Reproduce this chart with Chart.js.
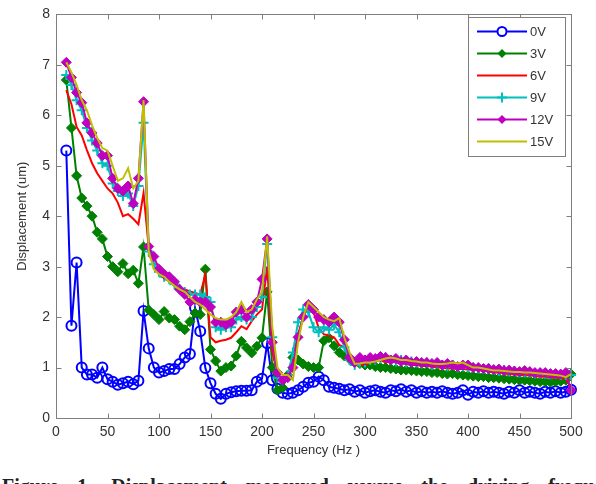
<!DOCTYPE html>
<html>
<head>
<meta charset="utf-8">
<script src="https://cdn.jsdelivr.net/npm/chart.js@4.4.1/dist/chart.umd.min.js"></script>
<style>
  html, body { margin: 0; padding: 0; background: #fff; overflow: hidden; }
  #wrap { position: relative; width: 596px; height: 484px; overflow: hidden; }
  #chart { position: absolute; left: 0; top: 0; }
  #caption { position: absolute; left: 2px; top: 475px; font: bold 20px "Liberation Serif", serif; color: #222; white-space: nowrap; word-spacing: 14px; }
</style>
</head>
<body>
<div id="wrap">
  <canvas id="chart" width="596" height="468"></canvas>
  <div id="caption">Figure 1. Displacement measured versus the driving frequency</div>
</div>
<script>
// frequency points (Hz)
const freq = [
  10, 15, 20, 25, 30, 35, 40, 45, 50, 55,
  60, 65, 70, 75, 80, 85, 90, 95, 100, 105,
  110, 115, 120, 125, 130, 135, 140, 145, 150, 155,
  160, 165, 170, 175, 180, 185, 190, 195, 200, 205,
  210, 215, 220, 225, 230, 235, 240, 245, 250, 255,
  260, 265, 270, 275, 280, 285, 290, 295, 300, 305,
  310, 315, 320, 325, 330, 335, 340, 345, 350, 355,
  360, 365, 370, 375, 380, 385, 390, 395, 400, 405,
  410, 415, 420, 425, 430, 435, 440, 445, 450, 455,
  460, 465, 470, 475, 480, 485, 490, 495, 500
];

// displacement (um) for each voltage
const disp0V = [
  5.3, 1.83, 3.08, 1.0, 0.86, 0.86, 0.8, 1.0, 0.77, 0.72,
  0.66, 0.69, 0.72, 0.67, 0.74, 2.12, 1.38, 1.0, 0.9, 0.93,
  0.97, 0.97, 1.07, 1.2, 1.27, 2.18, 1.72, 0.99, 0.69, 0.48,
  0.38, 0.48, 0.51, 0.53, 0.54, 0.54, 0.55, 0.72, 0.78, 1.48,
  0.75, 0.58, 0.5, 0.48, 0.5, 0.55, 0.62, 0.7, 0.72, 0.82,
  0.75, 0.62, 0.6, 0.58, 0.55, 0.57, 0.52, 0.55, 0.5, 0.53,
  0.55, 0.52, 0.5, 0.55, 0.53, 0.57, 0.52, 0.55, 0.5, 0.53,
  0.5, 0.52, 0.5, 0.53, 0.5, 0.48, 0.5, 0.55, 0.46, 0.52,
  0.5, 0.53, 0.5, 0.52, 0.5, 0.48, 0.52, 0.5, 0.55, 0.5,
  0.52, 0.5, 0.48, 0.52, 0.5, 0.53, 0.5, 0.52, 0.56
];
const disp3V = [
  6.7, 5.75, 4.8, 4.36, 4.2, 4.0, 3.68, 3.55, 3.2, 3.0,
  2.9, 3.06, 2.86, 2.93, 2.67, 3.39, 2.14, 2.05, 1.95, 2.11,
  1.98, 1.95, 1.82, 1.75, 1.91, 2.08, 2.05, 2.95, 1.36, 1.13,
  0.93, 1.0, 1.03, 1.23, 1.52, 1.39, 1.29, 1.42, 1.59, 2.5,
  1.0, 0.55, 0.6, 0.85, 1.2, 1.15, 1.07, 1.02, 1.0, 1.0,
  1.53, 1.59, 1.43, 1.3, 1.23, 1.17, 1.1, 1.08, 1.05, 1.05,
  1.02, 1.0, 1.0, 0.98, 0.97, 0.95, 0.95, 0.94, 0.93, 0.92,
  0.92, 0.9, 0.9, 0.88, 0.87, 0.88, 0.86, 0.85, 0.84, 0.83,
  0.82, 0.82, 0.8, 0.8, 0.79, 0.78, 0.77, 0.76, 0.75, 0.75,
  0.74, 0.73, 0.72, 0.72, 0.71, 0.72, 0.73, 0.75, 0.87
];
const disp6V = [
  6.5, 6.22, 5.77, 5.6, 5.31, 5.05, 4.85, 4.7, 4.55, 4.45,
  4.27, 4.0, 4.04, 3.95, 3.84, 4.46, 3.39, 3.03, 2.85, 2.77,
  2.71, 2.62, 2.58, 2.55, 2.51, 2.48, 2.45, 2.84, 1.6, 1.5,
  1.53, 1.55, 1.59, 1.7, 1.82, 1.76, 1.92, 2.05, 2.15, 3.0,
  1.3, 0.87, 0.74, 0.8, 1.2, 1.66, 2.0, 2.28, 2.1, 1.79,
  1.66, 1.63, 1.6, 1.45, 1.4, 1.14, 1.06, 1.05, 1.05, 1.1,
  1.12, 1.15, 1.1, 1.12, 1.1, 1.08, 1.07, 1.05, 1.05, 1.03,
  1.03, 1.02, 1.0, 1.0, 0.98, 0.98, 0.97, 0.97, 0.96, 0.95,
  0.95, 0.93, 0.92, 0.9, 0.9, 0.88, 0.87, 0.86, 0.85, 0.85,
  0.84, 0.83, 0.82, 0.82, 0.8, 0.8, 0.79, 0.78, 0.6
];
const disp9V = [
  6.8, 6.6, 6.3, 6.1, 5.75, 5.5, 5.3, 5.05, 5.0, 4.65,
  4.5, 4.4, 4.45, 4.2, 4.6, 5.85, 3.3, 3.05, 2.9, 2.8,
  2.75, 2.65, 2.55, 2.5, 2.45, 2.45, 2.45, 2.4, 2.3, 1.8,
  1.75, 1.8, 1.8, 1.95, 2.0, 1.95, 2.0, 2.2, 2.4, 3.45,
  1.6, 0.8, 0.75, 0.85, 1.3, 1.9, 2.15, 2.1, 1.8, 1.7,
  1.8, 1.75, 1.85, 1.7, 1.4, 1.15, 1.05, 1.1, 1.1, 1.15,
  1.15, 1.18, 1.2, 1.15, 1.12, 1.15, 1.1, 1.12, 1.1, 1.08,
  1.1, 1.05, 1.08, 1.05, 1.02, 1.05, 1.0, 1.02, 1.0, 1.0,
  0.98, 0.97, 0.98, 0.95, 0.93, 0.95, 0.92, 0.93, 0.9, 0.9,
  0.9, 0.88, 0.88, 0.87, 0.86, 0.87, 0.85, 0.85, 0.85
];
const disp12V = [
  7.05, 6.75, 6.45, 6.25, 5.85, 5.65, 5.45, 5.2, 5.2, 4.75,
  4.55, 4.5, 4.6, 4.25, 4.75, 6.27, 3.4, 3.2, 2.95, 2.85,
  2.8, 2.7, 2.55, 2.45, 2.3, 2.35, 2.3, 2.3, 2.2, 1.9,
  1.9, 1.85, 1.9, 2.1, 2.15, 2.0, 2.15, 2.3, 2.75, 3.55,
  1.5, 0.9, 0.75, 0.8, 1.0, 1.6, 2.0, 2.25, 2.15, 2.0,
  1.95, 1.9, 2.0, 1.9, 1.55, 1.2, 1.1, 1.2, 1.15, 1.2,
  1.18, 1.22, 1.2, 1.15, 1.18, 1.12, 1.15, 1.1, 1.12, 1.1,
  1.1, 1.08, 1.1, 1.05, 1.08, 1.05, 1.02, 1.05, 1.05, 1.0,
  1.0, 0.98, 0.98, 0.96, 0.97, 0.94, 0.95, 0.93, 0.92, 0.94,
  0.92, 0.9, 0.9, 0.9, 0.88, 0.88, 0.87, 0.9, 0.55
];
const disp15V = [
  7.05, 6.85, 6.6, 6.3, 6.1, 5.8, 5.55, 5.35, 5.3, 5.0,
  4.7, 4.75, 4.95, 4.55, 4.7, 6.3, 3.3, 2.95, 2.85, 2.8,
  2.7, 2.62, 2.55, 2.5, 2.4, 2.3, 2.25, 2.15, 2.05, 1.98,
  1.95, 1.95, 2.0, 2.1, 2.3, 2.1, 2.15, 2.35, 2.5, 3.6,
  1.8, 1.0, 0.85, 0.85, 0.75, 1.5, 2.0, 2.3, 2.2, 2.1,
  2.0, 1.95, 1.92, 1.98, 1.59, 1.3, 1.07, 1.08, 1.1, 1.1,
  1.12, 1.15, 1.18, 1.2, 1.18, 1.15, 1.15, 1.13, 1.12, 1.1,
  1.1, 1.08, 1.07, 1.07, 1.08, 1.1, 1.08, 1.1, 1.05, 1.0,
  1.0, 0.98, 0.96, 0.94, 0.94, 0.93, 0.92, 0.91, 0.91, 0.9,
  0.9, 0.89, 0.88, 0.87, 0.86, 0.85, 0.84, 0.81, 0.87
];

const seriesNames = ['0V', '3V', '6V', '9V', '12V', '15V'];
const seriesValues = [disp0V, disp3V, disp6V, disp9V, disp12V, disp15V];
const seriesColors = ['#0000ff', '#008000', '#ff0000', '#00bfbf', '#bf00bf', '#bfbf00'];
const seriesMarkers = ['circle', 'rectRot', false, 'cross', 'rectRot', false];

function makeDataset(i) {
  const marker = seriesMarkers[i];
  return {
    label: seriesNames[i],
    data: freq.map((f, k) => ({ x: f, y: seriesValues[i][k] })),
    borderColor: seriesColors[i],
    backgroundColor: marker === 'circle' ? 'rgba(255,255,255,0)' : seriesColors[i],
    borderWidth: 2,
    pointStyle: marker || 'circle',
    pointRadius: marker ? 5 : 0,
    pointBorderWidth: marker === 'circle' || marker === 'cross' ? 2 : 1,
    pointBorderColor: seriesColors[i],
    pointBackgroundColor: marker === 'circle' ? 'rgba(255,255,255,0)' : seriesColors[i],
    tension: 0,
    clip: false,
    order: seriesNames.length - i
  };
}

// little marker painter for the legend
function paintMarker(ctx, style, color, cx, cy) {
  ctx.save();
  ctx.strokeStyle = color;
  ctx.fillStyle = color;
  ctx.lineWidth = 2;
  ctx.beginPath();
  if (style === 'circle') {
    ctx.fillStyle = '#fff';
    ctx.arc(cx, cy, 4.5, 0, Math.PI * 2);
    ctx.fill();
    ctx.stroke();
  } else if (style === 'rectRot') {
    ctx.moveTo(cx, cy - 4.5);
    ctx.lineTo(cx + 4.5, cy);
    ctx.lineTo(cx, cy + 4.5);
    ctx.lineTo(cx - 4.5, cy);
    ctx.closePath();
    ctx.fill();
  } else if (style === 'cross') {
    ctx.moveTo(cx, cy - 5);
    ctx.lineTo(cx, cy + 5);
    ctx.moveTo(cx - 5, cy);
    ctx.lineTo(cx + 5, cy);
    ctx.stroke();
  }
  ctx.restore();
}

const matlabFrame = {
  id: 'matlabFrame',
  afterDatasetsDraw(chart) {
    const { ctx, chartArea: a, scales } = chart;
    const xs = scales.x, ys = scales.y;
    ctx.save();
    ctx.strokeStyle = '#7f7f7f';
    ctx.lineWidth = 1;
    const L = Math.round(a.left) + 0.5, R = Math.round(a.right) + 0.5;
    const T = Math.round(a.top) + 0.5, B = Math.round(a.bottom) + 0.5;
    ctx.strokeRect(L, T, R - L, B - T);
    ctx.beginPath();
    xs.ticks.forEach(t => {
      const px = Math.round(xs.getPixelForValue(t.value)) + 0.5;
      ctx.moveTo(px, B); ctx.lineTo(px, B - 5);
      ctx.moveTo(px, T); ctx.lineTo(px, T + 5);
    });
    ys.ticks.forEach(t => {
      const py = Math.round(ys.getPixelForValue(t.value)) + 0.5;
      ctx.moveTo(L, py); ctx.lineTo(L + 5, py);
      ctx.moveTo(R, py); ctx.lineTo(R - 5, py);
    });
    ctx.stroke();

    // legend box, top right inside the axes
    const bx = 468.5, by = 17.5, bw = 97, bh = 139;
    ctx.fillStyle = '#fff';
    ctx.fillRect(bx, by, bw, bh);
    ctx.strokeStyle = '#7f7f7f';
    ctx.strokeRect(bx, by, bw, bh);
    ctx.font = '13px "Liberation Sans", Arial, sans-serif';
    ctx.textBaseline = 'middle';
    ctx.textAlign = 'left';
    seriesNames.forEach((name, i) => {
      const yy = 31.5 + i * 22;
      ctx.strokeStyle = seriesColors[i];
      ctx.lineWidth = 2;
      ctx.beginPath();
      ctx.moveTo(477, yy);
      ctx.lineTo(527, yy);
      ctx.stroke();
      if (seriesMarkers[i]) paintMarker(ctx, seriesMarkers[i], seriesColors[i], 502, yy);
      ctx.fillStyle = '#333';
      ctx.fillText(name, 530, yy + 1);
    });
    ctx.restore();
  }
};

new Chart(document.getElementById('chart'), {
  type: 'line',
  data: { datasets: seriesNames.map((n, i) => makeDataset(i)) },
  options: {
    responsive: false,
    animation: false,
    devicePixelRatio: 1,
    layout: { padding: { left: 0, right: 25, top: 9, bottom: 0 } },
    plugins: { legend: { display: false }, tooltip: { enabled: false } },
    scales: {
      x: {
        type: 'linear',
        min: 0,
        max: 500,
        ticks: { stepSize: 50, color: '#333', padding: 6, maxRotation: 0,
                 font: { family: '"Liberation Sans", Arial, sans-serif', size: 14 } },
        grid: { display: false, drawTicks: false },
        border: { display: false },
        title: { display: true, text: 'Frequency (Hz )', color: '#333',
                 font: { family: '"Liberation Sans", Arial, sans-serif', size: 13 },
                 padding: { top: 0, bottom: 10 } },
        afterFit(scale) { scale.height = 50; }
      },
      y: {
        min: 0,
        max: 8,
        ticks: { stepSize: 1, color: '#333', padding: 6,
                 font: { family: '"Liberation Sans", Arial, sans-serif', size: 14 } },
        grid: { display: false, drawTicks: false },
        border: { display: false },
        title: { display: true, text: 'Displacement (um)', color: '#333',
                 font: { family: '"Liberation Sans", Arial, sans-serif', size: 13 },
                 padding: { top: 15, bottom: 0 } },
        afterFit(scale) { scale.width = 56; }
      }
    }
  },
  plugins: [matlabFrame]
});
</script>
</body>
</html>
